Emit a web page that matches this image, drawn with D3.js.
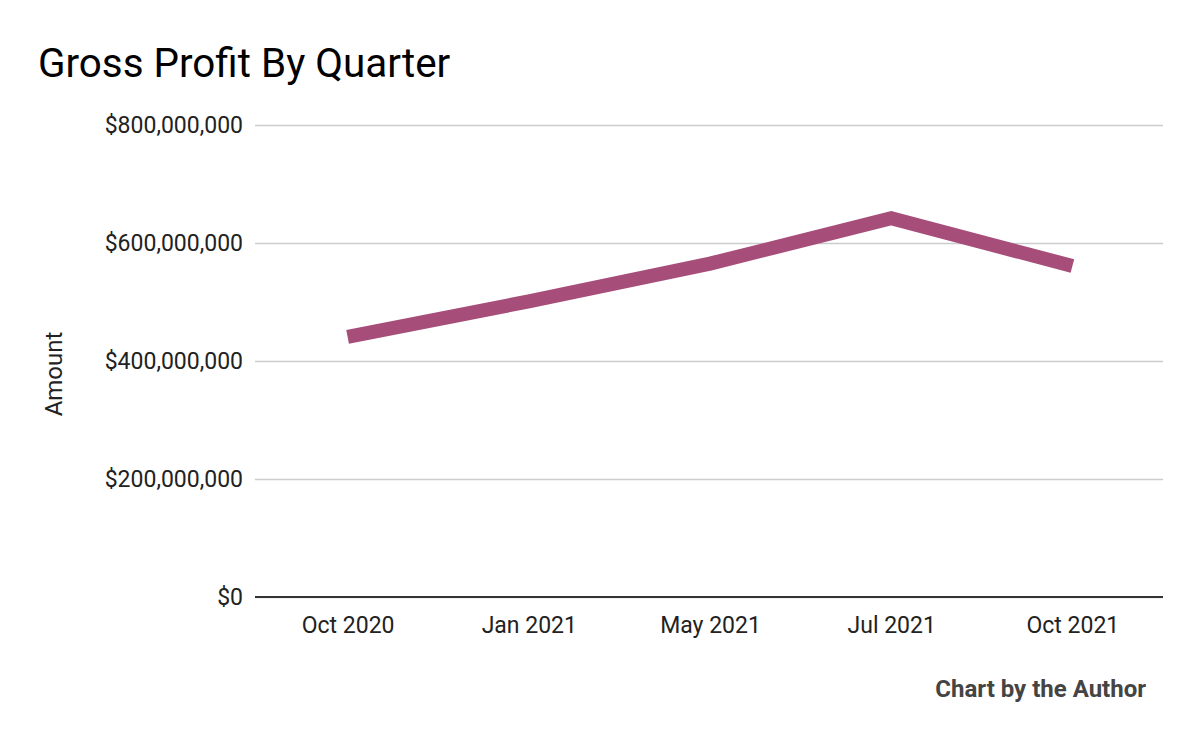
<!DOCTYPE html>
<html><head><meta charset="utf-8">
<script src="https://cdn.jsdelivr.net/npm/d3@7"></script>
<style>body{margin:0;background:#fff}svg{display:block;font-family:Roboto,sans-serif}</style>
</head><body><svg id="c" width="1200" height="742"></svg>
<script>
const categories = ["Oct 2020","Jan 2021","May 2021","Jul 2021","Oct 2021"];
const grossProfit = [441000000, 501000000, 565000000, 642000000, 561000000];
const yTicks = [0, 200000000, 400000000, 600000000, 800000000];

const svg = d3.select("#c");
const L = 257, R = 1163, T = 125, B = 597;
const x = d3.scalePoint().domain(categories).range([L, R]).padding(0.5);
const y = d3.scaleLinear().domain([0, 800000000]).range([B, T]);
const fmt = v => "$" + d3.format(",")(v);

svg.append("rect").attr("width",1200).attr("height",742).attr("fill","#fff");

svg.append("text").attr("x",38).attr("y",77).attr("font-size",40.4).attr("fill","#000").text("Gross Profit By Quarter");

const ya = svg.append("g").attr("transform",`translate(${L-2},0)`)
  .call(d3.axisLeft(y).tickValues(yTicks).tickFormat(fmt).tickSize(-(R-L+2)).tickPadding(12));
ya.select(".domain").remove();
ya.selectAll(".tick line").attr("stroke","#cccccc").attr("stroke-width",1.5);
ya.selectAll(".tick text").attr("font-size",23).attr("fill","#222").attr("font-family","Roboto");

const xa = svg.append("g").attr("transform",`translate(0,${B})`)
  .call(d3.axisBottom(x).tickSize(0).tickPadding(20));
xa.select(".domain").remove();
xa.selectAll(".tick text").attr("font-size",23).attr("fill","#222").attr("font-family","Roboto");
svg.append("line").attr("x1",L-2).attr("x2",R).attr("y1",B).attr("y2",B).attr("stroke","#333").attr("stroke-width",2);

svg.append("path").datum(grossProfit)
  .attr("fill","none").attr("stroke","#a64d79").attr("stroke-width",14).attr("stroke-linejoin","miter")
  .attr("d", d3.line().x((d,i)=>x(categories[i])).y(d=>y(d)));

svg.append("text").attr("transform","translate(62,374) rotate(-90)").attr("text-anchor","middle")
  .attr("font-size",24).attr("fill","#222").text("Amount");

svg.append("text").attr("x",1146).attr("y",697).attr("text-anchor","end").attr("font-size",24)
  .attr("font-weight","bold").attr("fill","#444").text("Chart by the Author");
</script></body></html>
